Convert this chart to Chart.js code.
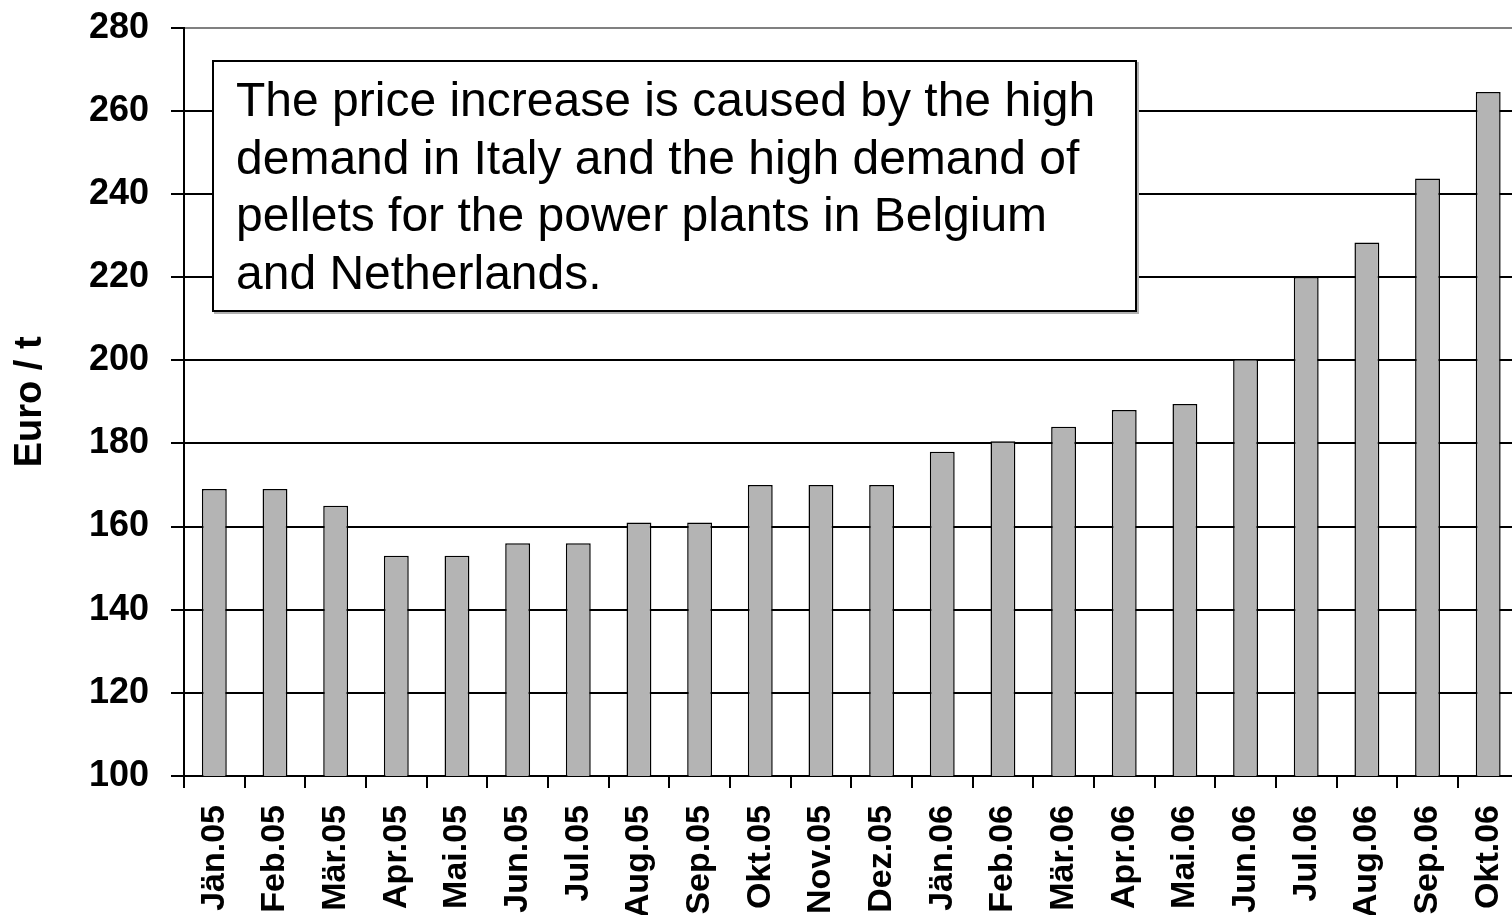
<!DOCTYPE html>
<html lang="en">
<head>
  <meta charset="UTF-8">
  <title>Pellet price</title>
  <script src="https://cdn.jsdelivr.net/npm/chart.js"></script>
  <style>
    * { margin: 0; padding: 0; box-sizing: border-box; }
    body { background: #fff; width: 1512px; height: 915px; overflow: hidden; font-family: 'Liberation Sans', Arial, sans-serif; }
    .wrap { position: relative; width: 1512px; height: 915px; overflow: hidden; }
    canvas { position: absolute; left: 0; top: -16px; }
    .note {
      position: absolute;
      left: 212px; top: 60px;
      width: 925px; height: 252px;
      background: #fff;
      border: 2px solid #000;
      box-shadow: 2px 2px 0 #b0b0b0;
      padding: 9px 0 0 22px;
      font-size: 48px;
      line-height: 57.6px;
      color: #000;
      white-space: nowrap;
    }
  </style>
</head>
<body>
  <div class="wrap">
    <canvas id="chart" width="1546" height="931"></canvas>
    <div class="note">The price increase is caused by the high<br>demand in Italy and the high demand of<br>pellets for the power plants in Belgium<br>and Netherlands.</div>
  </div>

  <script>
    const months = ['Jän.05', 'Feb.05', 'Mär.05', 'Apr.05', 'Mai.05', 'Jun.05', 'Jul.05', 'Aug.05',
      'Sep.05', 'Okt.05', 'Nov.05', 'Dez.05', 'Jän.06', 'Feb.06', 'Mär.06', 'Apr.06', 'Mai.06',
      'Jun.06', 'Jul.06', 'Aug.06', 'Sep.06', 'Okt.06'];
    const prices = [169, 169, 165, 153, 153, 156, 156, 161, 161, 170, 170, 170, 178, 180.5, 184,
      188, 189.5, 200.3, 220, 228.3, 243.7, 264.5];
    const yMin = 100;
    const yMax = 280;
    const yStep = 20;
    const yTitle = 'Euro / t';

    const font = "'Liberation Sans', Arial, sans-serif";

    new Chart(document.getElementById('chart'), {
      type: 'bar',
      data: {
        labels: months,
        datasets: [{
          data: prices,
          backgroundColor: '#b4b4b4',
          borderColor: '#000',
          borderWidth: 1.5,
          barPercentage: 0.41,
          categoryPercentage: 1.0
        }]
      },
      options: {
        responsive: false,
        animation: false,
        devicePixelRatio: 1,
        layout: { padding: { top: 12, right: 0, left: 0, bottom: 0 } },
        plugins: {
          legend: { display: false },
          tooltip: { enabled: false }
        },
        scales: {
          x: {
            offset: true,
            grid: {
              offset: true,
              drawOnChartArea: false,
              drawTicks: true,
              tickLength: 12,
              color: '#000',
              lineWidth: 2
            },
            border: { display: true, color: '#000', width: 2 },
            ticks: {
              autoSkip: false,
              maxRotation: 90,
              minRotation: 90,
              padding: 17,
              color: '#000',
              font: { family: font, size: 34, weight: 'bold' }
            },
            afterFit: scale => { scale.height = 139; }
          },
          y: {
            min: yMin,
            max: yMax,
            ticks: {
              stepSize: yStep,
              padding: 22,
              color: '#000',
              font: { family: font, size: 36, weight: 'bold' }
            },
            grid: {
              color: ctx => (ctx.tick && ctx.tick.value === yMax) ? '#808080' : '#000',
              tickColor: '#000',
              lineWidth: 2,
              tickLength: 13
            },
            border: { display: true, color: '#000', width: 2 },
            title: {
              display: true,
              text: yTitle,
              color: '#000',
              padding: { top: 8, bottom: 0 },
              font: { family: font, size: 38, weight: 'bold' }
            },
            afterFit: scale => { scale.width = 184; }
          }
        }
      }
    });
  </script>
</body>
</html>
